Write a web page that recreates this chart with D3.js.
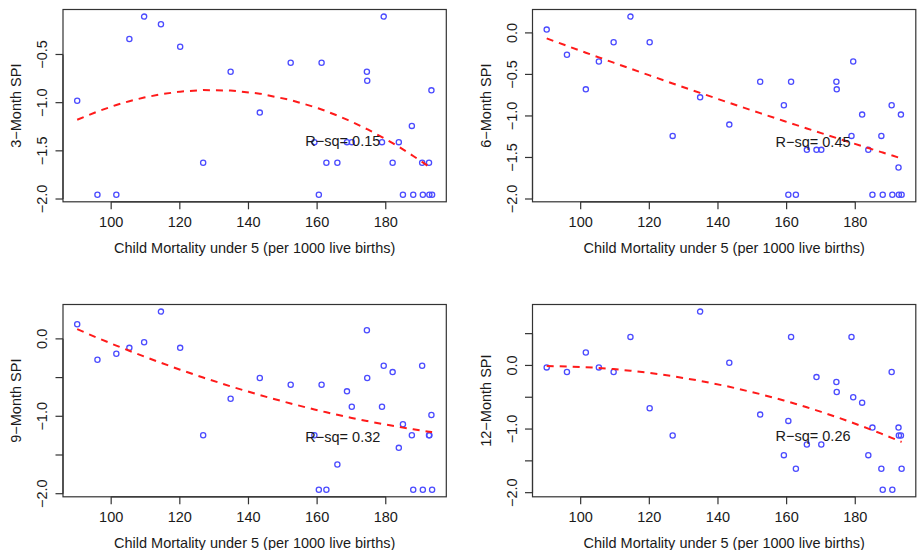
<!DOCTYPE html>
<html>
<head>
<meta charset="utf-8">
<script src="https://cdn.jsdelivr.net/npm/d3@7"></script>
<style>
  body { margin: 0; background: #fff; }
  svg { display: block; font-family: "Liberation Sans", Arial, sans-serif; }
  text { fill: #1a1a1a; }
</style>
</head>
<body>
<svg class="chart"></svg>
<script>
var width = 917,
    height = 550;

// child mortality under 5 (per 1000 live births), one per country
var mortality = [90.1, 96.0, 101.5, 105.3, 109.6, 114.5, 120.1, 126.8, 134.8, 143.3, 152.3,
  159.2, 160.5, 161.3, 162.7, 165.9, 168.7, 170.1, 174.5, 174.6, 178.9, 179.4, 182.0,
  183.8, 185.0, 187.6, 188.0, 190.6, 190.8, 192.6, 192.7, 193.3, 193.5];

var spi3 = [-0.98, -1.955, -1.955, -0.34, -0.107, -0.186, -0.42, -1.624, -0.679, -1.103, -0.586,
  -1.41, -1.955, -0.586, -1.624, -1.624, -1.41, -1.41, -0.679, -0.772, -1.41, -0.107, -1.624,
  -1.41, -1.955, -1.241, -1.955, -1.624, -1.955, -1.624, -1.955, -0.872, -1.955];

var spi6 = [0.04, -0.264, -0.68, -0.344, -0.112, 0.196, -0.112, -1.24, -0.776, -1.104, -0.588,
  -0.872, -1.948, -0.588, -1.948, -1.408, -1.408, -1.408, -0.588, -0.68, -1.24, -0.344, -0.984,
  -1.408, -1.948, -1.24, -1.948, -0.872, -1.948, -1.62, -1.948, -0.984, -1.948];

var spi9 = [0.189, -0.27, -0.193, -0.116, -0.043, 0.352, -0.116, -1.245, -0.773, -0.506, -0.592,
  -1.245, -1.948, -0.592, -1.948, -1.622, -0.678, -0.876, 0.112, -0.506, -0.876, -0.348, -0.429,
  -1.408, -1.103, -1.245, -1.948, -0.348, -1.948, -1.245, -1.245, -0.983, -1.948];

var spi12 = [-0.031, -0.104, 0.204, -0.031, -0.104, 0.449, -0.674, -1.102, 0.846, 0.042, -0.773,
  -1.41, -0.872, 0.449, -1.624, -1.243, -0.183, -1.243, -0.261, -0.418, 0.449, -0.501, -0.585,
  -1.41, -0.977, -1.624, -1.953, -0.104, -1.953, -0.977, -1.102, -1.102, -1.624];

var yTitles = ["3\u2212Month SPI", "6\u2212Month SPI", "9\u2212Month SPI", "12\u2212Month SPI"];
var rsqText = ["0.15", "0.45", "0.32", "0.26"];
var rsqAt = [[167.5, -1.40], [167.7, -1.31], [167.5, -1.26], [167.7, -1.11]];
var xTitle = "Child Mortality under 5 (per 1000 live births)";

var series = [spi3, spi6, spi9, spi12];

var panels = [
  { left: 63, top: 9.5 },
  { left: 532.5, top: 9.5 },
  { left: 63, top: 304.5 },
  { left: 532.5, top: 304.5 }
];
var pw = 383.3, ph = 192.3;

var svg = d3.select(".chart")
    .attr("width", width)
    .attr("height", height);

// R style axis range: data extent padded 4% each side
function pad(ext) {
  var d = (ext[1] - ext[0]) * 0.04;
  return [ext[0] - d, ext[1] + d];
}

// least squares y = a + b*x + c*x^2
function quadFit(xs, ys) {
  var mx = d3.mean(xs);
  var S = [[0, 0, 0], [0, 0, 0], [0, 0, 0]], T = [0, 0, 0];
  xs.forEach(function(x, i) {
    var u = x - mx, r = [1, u, u * u];
    for (var j = 0; j < 3; j++) {
      T[j] += r[j] * ys[i];
      for (var k = 0; k < 3; k++) S[j][k] += r[j] * r[k];
    }
  });
  // gaussian elimination
  for (var p = 0; p < 3; p++) {
    for (var q = p + 1; q < 3; q++) {
      var f = S[q][p] / S[p][p];
      for (var k = p; k < 3; k++) S[q][k] -= f * S[p][k];
      T[q] -= f * T[p];
    }
  }
  var c = [0, 0, 0];
  for (var p = 2; p >= 0; p--) {
    var s = T[p];
    for (var k = p + 1; k < 3; k++) s -= S[p][k] * c[k];
    c[p] = s / S[p][p];
  }
  return function(x) { var u = x - mx; return c[0] + c[1] * u + c[2] * u * u; };
}

var fmt = d3.format(".1f");

series.forEach(function(vals, pi) {
  var P = panels[pi];
  var g = svg.append("g").attr("transform", "translate(" + P.left + "," + P.top + ")");

  var x = d3.scaleLinear().domain(pad(d3.extent(mortality))).range([0, pw]);
  var y = d3.scaleLinear().domain(pad(d3.extent(vals))).range([ph, 0]);

  // x axis
  var xt = x.ticks(5);
  var xa = g.append("g").attr("transform", "translate(0," + ph + ")");
  xa.append("line").attr("x1", x(xt[0])).attr("x2", x(xt[xt.length - 1]))
      .attr("stroke", "#333").attr("stroke-width", 1.2);
  xa.selectAll(".tk").data(xt).enter().append("line")
      .attr("x1", x).attr("x2", x).attr("y1", 0).attr("y2", 7.5)
      .attr("stroke", "#333").attr("stroke-width", 1.2);
  xa.selectAll("text").data(xt).enter().append("text")
      .attr("x", x).attr("y", 25.5)
      .attr("text-anchor", "middle")
      .style("font-size", "14.5px")
      .text(function(d) { return d; });
  g.append("text")
      .attr("x", pw / 2).attr("y", ph + 51)
      .attr("text-anchor", "middle")
      .style("font-size", "14.5px")
      .text(xTitle);

  // y axis
  var yt = y.ticks(5);
  var dense = Math.abs(y(yt[0]) - y(yt[1])) < 40;
  g.append("line").attr("y1", y(yt[0])).attr("y2", y(yt[yt.length - 1]))
      .attr("stroke", "#333").attr("stroke-width", 1.2);
  g.selectAll(".ytk").data(yt).enter().append("line")
      .attr("y1", y).attr("y2", y).attr("x1", 0).attr("x2", -7.5)
      .attr("stroke", "#333").attr("stroke-width", 1.2);
  g.selectAll(".ylab").data(yt.filter(function(d, i) { return !dense || i % 2 === 0; }))
    .enter().append("text")
      .attr("transform", function(d) { return "translate(-16," + y(d) + ") rotate(-90)"; })
      .attr("text-anchor", "middle")
      .style("font-size", "14.5px")
      .text(fmt);
  g.append("text")
      .attr("transform", "translate(-42," + (ph / 2) + ") rotate(-90)")
      .attr("text-anchor", "middle")
      .style("font-size", "14.5px")
      .text(yTitles[pi]);

  // box
  g.append("rect").attr("width", pw).attr("height", ph)
      .attr("fill", "none").attr("stroke", "#333").attr("stroke-width", 1.2);

  // points
  g.selectAll("circle").data(mortality).enter().append("circle")
      .attr("cx", function(d) { return x(d); })
      .attr("cy", function(d, i) { return y(vals[i]); })
      .attr("r", 2.6)
      .attr("fill", "none")
      .attr("stroke", "#4b4bff")
      .attr("stroke-width", 1.3);

  // quadratic fit
  var fit = quadFit(mortality, vals);
  var xs = mortality.slice().sort(d3.ascending);
  g.append("path")
      .datum(xs)
      .attr("fill", "none")
      .attr("stroke", "#ff1a1a")
      .attr("stroke-width", 2)
      .attr("stroke-dasharray", "7,6")
      .attr("d", d3.line().x(function(d) { return x(d); }).y(function(d) { return y(fit(d)); }));

  g.append("text")
      .attr("x", x(rsqAt[pi][0])).attr("y", y(rsqAt[pi][1]))
      .attr("dy", "0.36em")
      .attr("text-anchor", "middle")
      .style("font-size", "14.5px")
      .text("R\u2212sq= " + rsqText[pi]);
});
</script>
</body>
</html>
